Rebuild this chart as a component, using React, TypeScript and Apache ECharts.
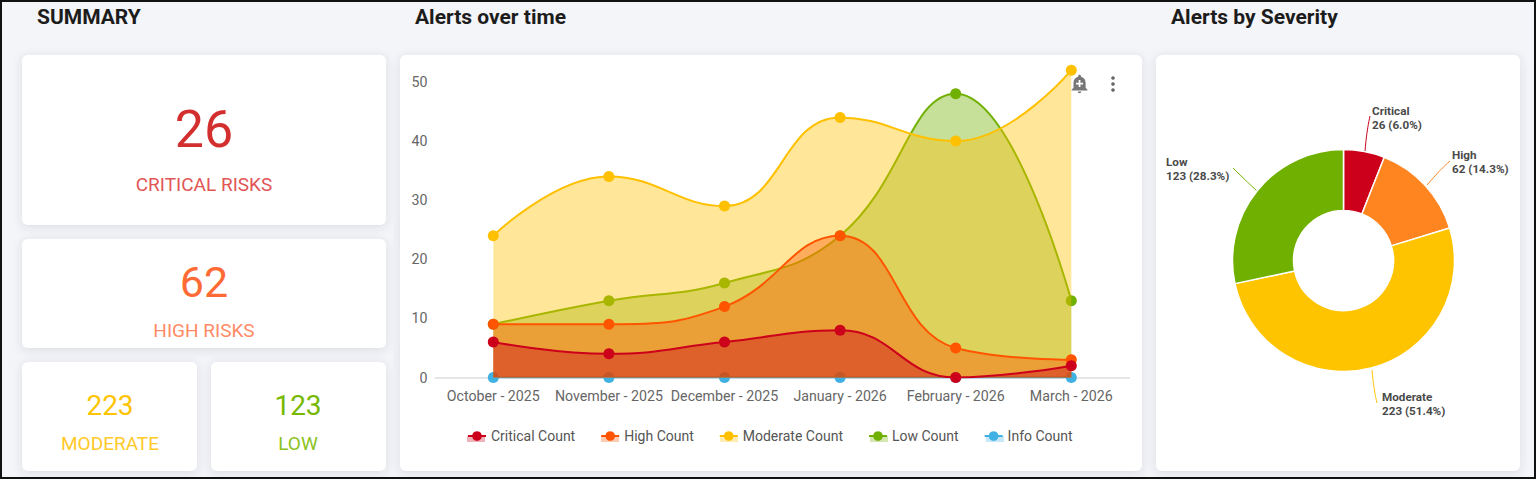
import React, { useEffect, useRef } from "react";
import * as echarts from "echarts";

const months = ["October - 2025", "November - 2025", "December - 2025", "January - 2026", "February - 2026", "March - 2026"];
const criticalCounts = [6, 4, 6, 8, 0, 2];
const highCounts = [9, 9, 12, 24, 5, 3];
const moderateCounts = [24, 34, 29, 44, 40, 52];
const lowCounts = [9, 13, 16, 24, 48, 13];
const infoCounts = [0, 0, 0, 0, 0, 0];
const legendNames = ["Critical Count", "High Count", "Moderate Count", "Low Count", "Info Count"];

const severityNames = ["Critical", "High", "Moderate", "Low"];
const severityValues = [26, 62, 223, 123];
const kpiLabels = ["CRITICAL RISKS", "HIGH RISKS", "MODERATE", "LOW"];

const FONT = "Roboto, sans-serif";
const ADD_ALERT =
  "M10.01 21.01c0 1.1.89 1.99 1.99 1.99s1.99-.89 1.99-1.99h-3.98zm8.87-4.19V11c0-3.25-2.25-5.97-5.29-6.69v-.72C13.59 2.71 12.88 2 12 2s-1.59.71-1.59 1.59v.72C7.37 5.03 5.12 7.75 5.12 11v5.82L3 18.94V20h18v-1.06l-2.12-2.12zM16 13.01h-3v3h-2v-3H8V11h3V8h2v3h3v2.01z";

const card = (x: number, y: number, width: number, height: number) => ({
  type: "rect",
  shape: { x, y, width, height, r: 6 },
  style: { fill: "#fff", shadowBlur: 10, shadowColor: "rgba(60,70,90,0.14)", shadowOffsetY: 2 },
});
const txt = (x: number, y: number, text: string, fontSize: number, fill: string, extra: any = {}) => ({
  type: "text",
  x,
  y,
  style: { text, fontSize, fill, fontFamily: FONT, align: "center", verticalAlign: "middle", ...extra },
});
const heading = (x: number, text: string) =>
  txt(x, 17, text, 21, "#1c1c1c", { align: "left", fontWeight: "bold" });
const legendSwatch = (x: number, color: string) => ({
  type: "rect",
  shape: { x, y: 436, width: 18, height: 6 },
  style: { fill: color, opacity: 0.3 },
});

const areaSeries = (name: string, data: number[], color: string, z: number) => ({
  name,
  type: "line",
  z,
  data,
  smooth: 0.45,
  symbol: "circle",
  symbolSize: 11,
  showSymbol: true,
  lineStyle: { color, width: 2 },
  itemStyle: { color },
  areaStyle: { color, opacity: 0.4 },
  emphasis: { disabled: true },
});

const labelSpots = [
  { x: 1372, y: 118, labelLinePoints: [[1365, 151], [1367, 130], [1370, 116]] },
  { x: 1452, y: 162, labelLinePoints: [[1427, 185], [1442, 168], [1450, 161]] },
  { x: 1382, y: 404, labelLinePoints: [[1372, 370], [1374, 390], [1377, 403]] },
  { x: 1166, y: 169, labelLinePoints: [[1257, 191], [1243, 178], [1233, 168]] },
];

export default function App() {
  const ref = useRef<HTMLDivElement>(null);
  useEffect(() => {
    echarts.graphic.registerShape("addAlert", echarts.graphic.extendPath(ADD_ALERT as any, {}) as any);
    const chart = echarts.init(ref.current!, null, { renderer: "svg" });
    chart.setOption({
      animation: false,
      textStyle: { fontFamily: FONT },
      tooltip: { show: false },
      graphic: {
        elements: [
          { type: "rect", shape: { x: 1, y: 1, width: 1534, height: 477 }, style: { fill: "#f4f5f8", stroke: "#111", lineWidth: 2 } },
          card(22, 55, 364, 170),
          card(22, 239, 364, 109),
          card(22, 362, 175, 109),
          card(211, 362, 175, 109),
          card(400, 55, 742, 416),
          card(1156, 55, 364, 416),
          heading(37, "SUMMARY"),
          heading(415, "Alerts over time"),
          heading(1171, "Alerts by Severity"),
          txt(204, 129, String(severityValues[0]), 52, "#d32f2f"),
          txt(204, 184, kpiLabels[0], 19, "#e25555"),
          txt(204, 282, String(severityValues[1]), 43, "#ff6b35"),
          txt(204, 330, kpiLabels[1], 19, "#ff8a65"),
          txt(110, 405, String(severityValues[2]), 28, "#ffc400"),
          txt(110, 443, kpiLabels[2], 19, "#ffc928"),
          txt(298, 405, String(severityValues[3]), 28, "#76b900"),
          txt(298, 443, kpiLabels[3], 19, "#8cc220"),
          legendSwatch(467, "#cc001a"),
          legendSwatch(601, "#ff5500"),
          legendSwatch(720, "#ffc000"),
          legendSwatch(870, "#70b000"),
          legendSwatch(986, "#3fb1e3"),
          { type: "addAlert", x: 1069, y: 73, scaleX: 0.88, scaleY: 0.88, style: { fill: "#777" } },
          { type: "circle", shape: { cx: 1113, cy: 78, r: 1.8 }, style: { fill: "#666" } },
          { type: "circle", shape: { cx: 1113, cy: 84, r: 1.8 }, style: { fill: "#666" } },
          { type: "circle", shape: { cx: 1113, cy: 90, r: 1.8 }, style: { fill: "#666" } },
        ],
      },
      legend: {
        data: legendNames,
        left: 467,
        top: 429,
        padding: 0,
        itemWidth: 18,
        itemHeight: 12,
        itemGap: 25,
        textStyle: { fontSize: 14, color: "#555", fontFamily: FONT },
        selectedMode: false,
      },
      grid: { left: 435.5, top: 22.9, width: 693.6, height: 354.6, containLabel: false },
      xAxis: {
        type: "category",
        data: months,
        boundaryGap: true,
        axisTick: { show: false },
        axisLine: { lineStyle: { color: "#e4e6e8", width: 2 } },
        axisLabel: { fontSize: 14.2, color: "#666", margin: 11, interval: 0, fontFamily: FONT },
      },
      yAxis: {
        type: "value",
        min: 0,
        max: 60,
        interval: 10,
        splitLine: { show: false },
        axisLine: { show: false },
        axisTick: { show: false },
        axisLabel: { fontSize: 14.2, color: "#666", margin: 8, showMaxLabel: false, fontFamily: FONT },
      },
      series: [
        areaSeries("Info Count", infoCounts, "#3fb1e3", 2),
        areaSeries("Low Count", lowCounts, "#70b000", 3),
        areaSeries("Moderate Count", moderateCounts, "#ffc000", 4),
        areaSeries("High Count", highCounts, "#ff5500", 5),
        areaSeries("Critical Count", criticalCounts, "#cc001a", 6),
        {
          type: "pie",
          center: [1343.5, 260.5],
          radius: [50, 111],
          startAngle: 90,
          clockwise: true,
          animation: false,
          emphasis: { disabled: true },
          itemStyle: { borderColor: "#fff", borderWidth: 1.5 },
          label: {
            formatter: (p: any) => `${p.name}\n${p.value} (${p.percent.toFixed(1)}%)`,
            fontSize: 11.7,
            lineHeight: 14,
            fontWeight: "bold",
            color: "#4a4a4a",
            fontFamily: FONT,
            align: "left",
          },
          percentPrecision: 1,
          labelLine: { show: true, smooth: 0.5, length: 14, length2: 12, lineStyle: { width: 1 } },
          labelLayout: (p: any) => ({ ...labelSpots[p.dataIndex], align: "left", verticalAlign: "middle" }),
          data: severityNames.map((name, i) => ({
            name,
            value: severityValues[i],
            itemStyle: { color: ["#cc001a", "#ff8520", "#ffc400", "#70b000"][i] },
          })),
        },
      ],
    });
    return () => chart.dispose();
  }, []);
  return <div ref={ref} style={{ position: "absolute", left: 0, top: 0, width: 1537, height: 480, background: "#fff" }} />;
}
